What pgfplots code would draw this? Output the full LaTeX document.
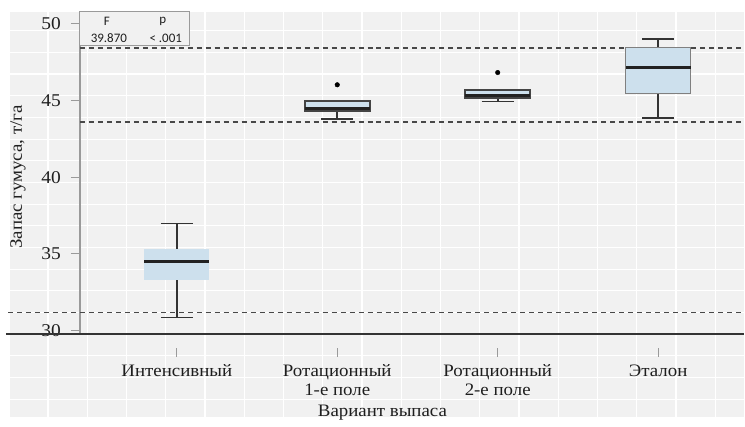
\documentclass[border=0pt]{standalone}
\usepackage{fontspec}
\setmainfont{Liberation Serif}[FakeStretch=1.08]
\newfontfamily\calfont{Carlito}
\usepackage{pgfplots}
\pgfplotsset{compat=1.18}
\usepgfplotslibrary{statistics}
\definecolor{bgc}{HTML}{F1F1F1}
\definecolor{boxc}{HTML}{CDE0ED}
\definecolor{txt}{HTML}{1E1E1E}
\definecolor{axgray}{HTML}{9A9A9A}
\definecolor{wh}{HTML}{333333}
\definecolor{med}{HTML}{222222}
\definecolor{dashc}{HTML}{484848}
\definecolor{boxedge}{HTML}{444444}
\definecolor{tabc}{HTML}{9A9A9A}
\begin{document}
\fontsize{18}{19.5}\selectfont
\begin{tikzpicture}
\begin{scope}[x=1pt,y=1pt]
\useasboundingbox (-80,-84) rectangle (665,334);
\fill[bgc] (-70,-84) rectangle (665,322);
\foreach \k in {0,...,18} {\draw[white, line width=1.2pt] ({8.7+39.3*\k-80},-84) -- ({8.7+39.3*\k-80},322);}
\foreach \k in {1,...,18} {\draw[white, line width=1.2pt] (-70,{334-9.1-21.7*\k}) -- (665,{334-9.1-21.7*\k});}
\end{scope}
\begin{axis}[
 scale only axis, width=665pt, height=322pt,
 xmin=-0.604, xmax=3.535, ymin=29.8, ymax=50.78,
 axis x line*=bottom, axis y line*=left,
 x axis line style={draw=none},
 y axis line style={draw=axgray, line width=1.3pt, -},
 xtick={0,1,2,3},
 xticklabels={Интенсивный, {Ротационный\\1-е поле}, {Ротационный\\2-е поле}, Эталон},
 xticklabel style={align=center, text=txt, yshift=-16pt, font=\fontsize{17.5}{18.5}\selectfont},
 x tick style={draw=axgray, line width=0.7pt, yshift=-14pt},
 ytick={30,35,40,45,50},
 yticklabel style={text=txt, xshift=-4pt, font=\fontsize{18}{19}\selectfont},
 tick align=outside, major tick length=9pt,
 y tick style={draw=axgray, line width=0.9pt},
 /pgf/number format/assume math mode=true,
 xlabel={Вариант выпаса}, ylabel={Запас гумуса, т/га},
 xlabel style={at={(axis description cs:0.4556,0)}, anchor=base, yshift=-83pt, text=txt, font=\fontsize{17.5}{19}\selectfont},
 ylabel style={at={(axis description cs:-0.0932,0.4876)}, anchor=center, text=txt, font=\fontsize{17.5}{19}\selectfont},
 boxplot/draw direction=y,
 clip=false,
]
\addplot[dashc, line width=1.6pt, dash pattern=on 5pt off 4pt] coordinates {(-0.604,48.44) (3.535,48.44)};
\addplot[dashc, line width=1.6pt, dash pattern=on 5pt off 4pt] coordinates {(-0.604,43.62) (3.535,43.62)};
\addplot[dashc, line width=1.6pt, dash pattern=on 5pt off 4pt] coordinates {(-1.052,31.17) (3.535,31.17)};
\addplot[draw=wh, line width=2pt] coordinates {(-1.065,29.8) (3.535,29.8)};

\addplot[mark=*, mark size=2.3pt, mark options={fill=black, draw=black},
 boxplot prepared={draw position=0, median=34.5, upper quartile=35.34, lower quartile=33.32,
 upper whisker=36.97, lower whisker=30.85, box extend=0.405, whisker extend=0.2,
 every box/.style={fill=boxc, draw=none},
 every whisker/.style={draw=wh, line width=1.6pt},
 every median/.style={draw=med, line width=3pt}}] coordinates {};

\addplot[mark=*, mark size=2.3pt, mark options={fill=black, draw=black},
 boxplot prepared={draw position=1, median=44.48, upper quartile=44.98, lower quartile=44.33,
 upper whisker=44.98, lower whisker=43.81, box extend=0.405, whisker extend=0.2,
 every box/.style={fill=boxc, draw=boxedge, line width=1.5pt},
 every whisker/.style={draw=wh, line width=1.6pt},
 every median/.style={draw=med, line width=3pt}}]
 table[row sep=\\, y index=0, header=false] {46.03\\};

\addplot[mark=*, mark size=2.3pt, mark options={fill=black, draw=black},
 boxplot prepared={draw position=2, median=45.33, upper quartile=45.7, lower quartile=45.18,
 upper whisker=45.7, lower whisker=44.94, box extend=0.405, whisker extend=0.2,
 every box/.style={fill=boxc, draw=boxedge, line width=1.5pt},
 every whisker/.style={draw=wh, line width=1.6pt},
 every median/.style={draw=med, line width=3pt}}]
 table[row sep=\\, y index=0, header=false] {46.83\\};

\addplot[mark=*, mark size=2.3pt, mark options={fill=black, draw=black},
 boxplot prepared={draw position=3, median=47.13, upper quartile=48.44, lower quartile=45.44,
 upper whisker=49.02, lower whisker=43.88, box extend=0.405, whisker extend=0.2,
 every box/.style={fill=boxc, draw=gray, line width=1.3pt},
 every whisker/.style={draw=wh, line width=1.6pt},
 every median/.style={draw=med, line width=3pt}}] coordinates {};
\end{axis}
\begin{scope}[x=1pt,y=1pt]
\draw[tabc, line width=1pt, fill=bgc] (0,288) rectangle (110,322);
\node[font=\calfont\fontsize{13}{14}\selectfont, text=txt] at (27,313) {F};
\node[font=\calfont\fontsize{13}{14}\selectfont, text=txt] at (83,313) {p};
\node[font=\calfont\fontsize{13}{14}\selectfont, text=txt] at (29,296) {39.870};
\node[font=\calfont\fontsize{13}{14}\selectfont, text=txt] at (86,296) {< .001};
\end{scope}
\end{tikzpicture}
\end{document}
